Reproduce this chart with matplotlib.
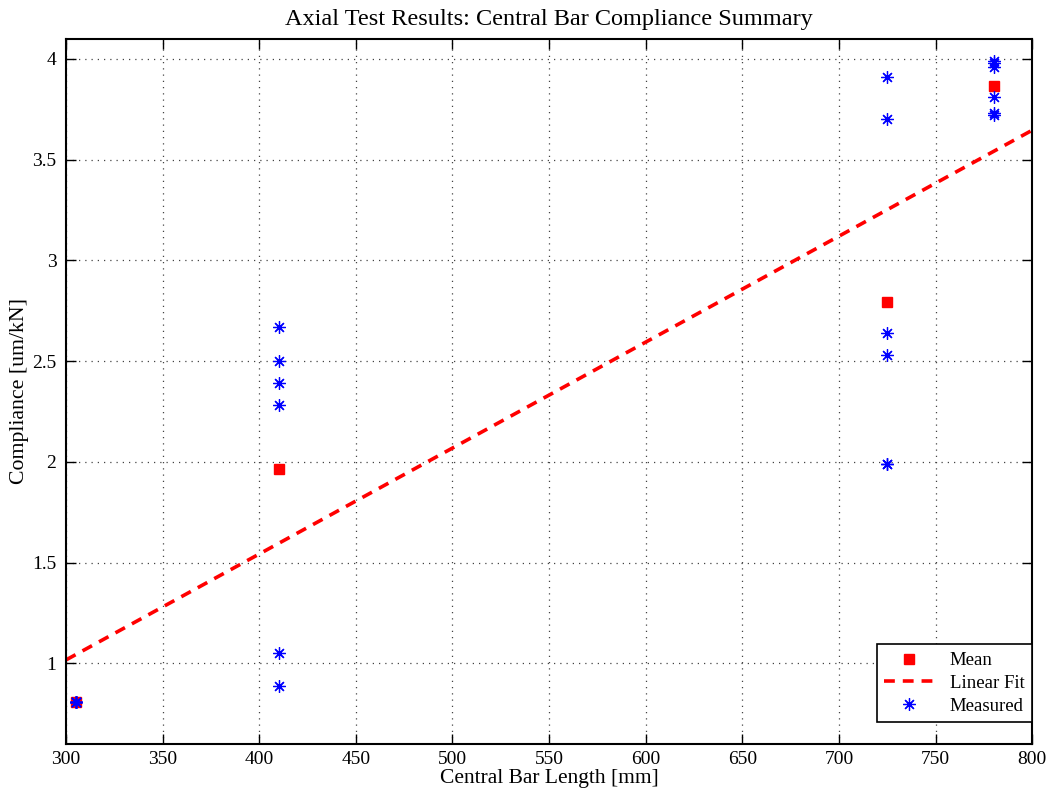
import numpy as np
import matplotlib
matplotlib.use("Agg")
from matplotlib import pyplot as plt

# central bar lengths [mm] and compliance readings [um/kN]
lengths = [305, 410, 725, 780]
measured = [
    [0.81, 0.81, 0.81, 0.81, 0.81, 0.81],
    [2.67, 2.50, 2.39, 2.28, 1.05, 0.89],
    [3.91, 3.70, 2.64, 2.53, 1.99, 1.99],
    [3.99, 3.98, 3.96, 3.81, 3.73, 3.72],
]

plt.rcParams['font.family'] = ['Liberation Serif', 'DejaVu Serif']

xs = np.repeat(lengths, [len(m) for m in measured])
ys = np.concatenate(measured)
means = [np.mean(m) for m in measured]
slope, icpt = np.polyfit(xs, ys, 1)
xfit = np.array([300, 800])

fig = plt.figure(figsize=(10.5, 7.95), dpi=100)
ax = fig.add_axes([0.0629, 0.0642, 0.9201, 0.887])

ax.plot(lengths, means, 's', color='red', markersize=7, label='Mean')
ax.plot(xfit, slope * xfit + icpt, '--', color='red', linewidth=2.6,
        dashes=(3, 2.2), label='Linear Fit')
# asterisk marker: 8 spokes like a '+' over an 'x'
ax.plot(xs, ys, marker=(8, 2, 0), color='blue', markersize=9,
        markeredgewidth=0.9, linestyle='none', label='Measured')

ax.set_xlim(300, 800)
ax.set_ylim(0.6, 4.1)
ax.set_xticks(np.arange(300, 801, 50))
ax.set_yticks([1, 1.5, 2, 2.5, 3, 3.5, 4])
ax.set_yticklabels(['1', '1.5', '2', '2.5', '3', '3.5', '4'])
ax.grid(True, linestyle=(0, (1, 4)), color='#444444', linewidth=0.9)
ax.tick_params(direction='in', top=True, right=True, labelsize=14,
               length=7, width=1, pad=7)
ax.tick_params(axis='x', pad=5)
for s in ax.spines.values():
    s.set_linewidth(1.5)

ax.set_title('Axial Test Results: Central Bar Compliance Summary',
             fontsize=17.5, pad=10)
ax.set_xlabel('Central Bar Length [mm]', fontsize=15.5, labelpad=1)
ax.set_ylabel('Compliance [um/kN]', fontsize=15.7, labelpad=2)

leg = ax.legend(loc='lower right', bbox_to_anchor=(1, 0.031),
                borderaxespad=0, fontsize=13.5, fancybox=False,
                edgecolor='black', framealpha=1, handlelength=2.6,
                labelspacing=0.3, handletextpad=0.9, borderpad=0.4)
leg.get_frame().set_linewidth(1.2)

fig.savefig('out.png', dpi=100)
